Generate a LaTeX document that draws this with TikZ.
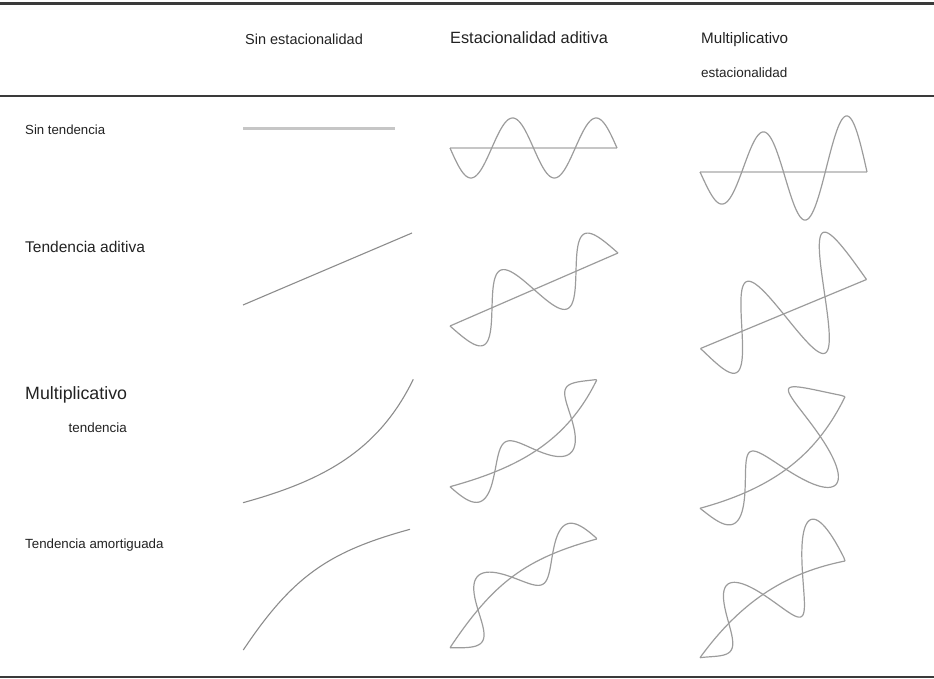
\documentclass[tikz,border=0pt]{standalone}
\usepackage{fontspec}
\setmainfont{Liberation Sans}
\usetikzlibrary{decorations}

\definecolor{rulegray}{HTML}{3A3A3A}
\definecolor{textgray}{HTML}{222222}
\definecolor{curvegray}{HTML}{8C8C8C}
\definecolor{wavegray}{HTML}{9C9C9C}
\definecolor{flatgray}{HTML}{C6C6C6}

% Seasonal wave drawn along any path: displacement perpendicular to the
% path, measured by arc length, amplitude = base + growth * (fraction done).
\pgfkeys{/pgf/decoration/.cd,
  season base/.store in=\seasBase, season base=30,
  season growth/.store in=\seasGrow, season growth=0,
  season cycles/.store in=\seasCycles, season cycles=2}

\pgfdeclaredecoration{seasonal}{wave}{
  \state{wave}[width=0.5pt]{%
    \pgfmathparse{\pgfdecoratedcompleteddistance/\pgfdecoratedpathlength}%
    \let\seasT\pgfmathresult
    \pgfmathparse{-(\seasBase+\seasGrow*\seasT)*sin(360*\seasCycles*\seasT)}%
    \pgfpathlineto{\pgfqpoint{0pt}{\pgfmathresult pt}}%
  }
  \state{final}{\pgfpathlineto{\pgfpointdecoratedpathlast}}
}

\tikzset{
  rule/.style={draw=rulegray, line width=2.6pt},
  flatline/.style={draw=flatgray, line width=3pt},
  levelline/.style={draw=flatgray, line width=2.2pt},
  trendline/.style={draw=curvegray, line width=1.1pt},
  innertrend/.style={draw=wavegray, line width=1.2pt},
  wave/.style={draw=wavegray, line width=1.2pt, line join=round,
    decorate, decoration={seasonal, #1}},
  label/.style={text=textgray, inner sep=0pt, anchor=base west,
    font=\fontsize{#1}{#1}\selectfont},
}

\begin{document}
\begin{tikzpicture}[x=1pt, y=-1pt]
\useasboundingbox (0,0) rectangle (934,679);

% table rules
\coordinate (topL) at (0,3.5);   \coordinate (topR) at (934,3.5);
\coordinate (midL) at (0,96);    \coordinate (midR) at (934,96);
\coordinate (botL) at (0,677);   \coordinate (botR) at (934,677);
\draw[rule] (topL) -- (topR);
\draw[rule] (midL) -- (midR);
\draw[rule] (botL) -- (botR);

% column headings
\node[label=14.5] (hNone) at (245,45) {Sin estacionalidad};
\node[label=16.3] (hAdd)  at (450,44) {Estacionalidad aditiva};
\node[label=15.2] (hMul)  at (701,44) {Multiplicativo};
\node[label=13.5] (hMul2) at (701,78) {estacionalidad};

% row headings
\node[label=13.2] (rNone) at (25,135) {Sin tendencia};
\node[label=15.5] (rAdd)  at (25,252) {Tendencia aditiva};
\node[label=17.8] (rMul)  at (25,399) {Multiplicativo};
\node[label=13.4, anchor=base east] (rMul2) at (127,432) {tendencia};
\node[label=13.3] (rDamp) at (25,548) {Tendencia amortiguada};

% ---- no trend
\coordinate (n0a) at (243,129);  \coordinate (n0b) at (395,129);
\draw[flatline] (n0a) -- (n0b);

\coordinate (n1a) at (450,148);  \coordinate (n1b) at (617,148);
\draw[levelline] (n1a) -- (n1b);
\draw[wave={season base=30, season growth=0}] (n1a) -- (n1b);

\coordinate (n2a) at (700,172);  \coordinate (n2b) at (867,172);
\draw[levelline] (n2a) -- (n2b);
\draw[wave={season base=28, season growth=32}] (n2a) -- (n2b);

% ---- additive trend
\coordinate (a0a) at (243,305);  \coordinate (a0b) at (412,233);
\draw[trendline] (a0a) -- (a0b);

\coordinate (a1a) at (450,326);  \coordinate (a1b) at (618,253);
\draw[innertrend] (a1a) -- (a1b);
\draw[wave={season base=31, season growth=0}] (a1a) -- (a1b);

\coordinate (a2a) at (700.5,348.5);  \coordinate (a2b) at (866.5,279.5);
\draw[innertrend] (a2a) -- (a2b);
\draw[wave={season base=32, season growth=32}] (a2a) -- (a2b);

% ---- multiplicative trend
\coordinate (m0a) at (243,502.7);  \coordinate (m0b) at (413.3,379.3);
\draw[trendline] (m0a) .. controls (323,480.7) and (378.3,451.1) .. (m0b);

\coordinate (m1a) at (450,486.7);  \coordinate (m1b) at (596.7,380);
\draw[innertrend] (m1a) .. controls (518.8,467.8) and (566.6,441.7) .. (m1b);
\draw[wave={season base=23, season growth=0}]
  (m1a) .. controls (518.8,467.8) and (566.6,441.7) .. (m1b);

\coordinate (m2a) at (700,508.3);  \coordinate (m2b) at (845,396.7);
\draw[innertrend] (m2a) .. controls (769,489.3) and (815,458.7) .. (m2b);
\draw[wave={season base=20, season growth=38}]
  (m2a) .. controls (769,489.3) and (815,458.7) .. (m2b);

% ---- damped trend
\coordinate (d0a) at (243.3,650);  \coordinate (d0b) at (410,529.3);
\draw[trendline] (d0a) .. controls (293.3,575) and (330,551.3) .. (d0b);

\coordinate (d1a) at (450,647.7);  \coordinate (d1b) at (596.7,539);
\draw[innertrend] (d1a) .. controls (494,581.7) and (526.3,558.4) .. (d1b);
\draw[wave={season base=23, season growth=0}]
  (d1a) .. controls (494,581.7) and (526.3,558.4) .. (d1b);

\coordinate (d2a) at (700,657.7);  \coordinate (d2b) at (845,561);
\draw[innertrend] (d2a) .. controls (743.5,597.7) and (790,572) .. (d2b);
\draw[wave={season base=15, season growth=38}]
  (d2a) .. controls (743.5,597.7) and (790,572) .. (d2b);

\end{tikzpicture}
\end{document}
